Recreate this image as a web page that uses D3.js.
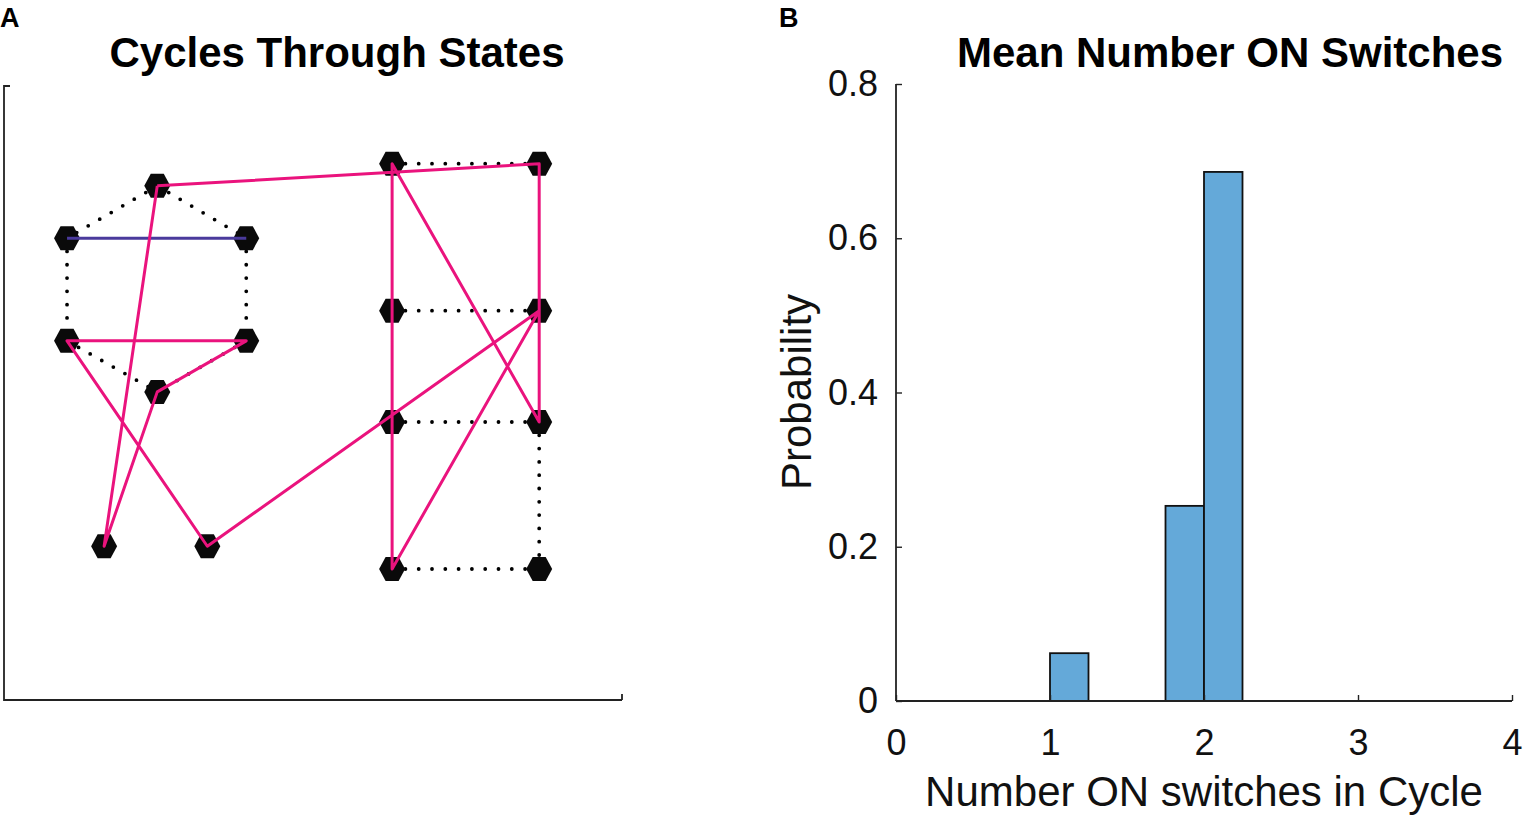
<!DOCTYPE html>
<html>
<head>
<meta charset="utf-8">
<script src="https://cdn.jsdelivr.net/npm/d3@7"></script>
<style>
  body { margin: 0; background: #fff; }
  text { font-family: "Liberation Sans", Arial, Helvetica, sans-serif; }
</style>
</head>
<body>
<svg id="chart"></svg>
<script>
// panel A: state nodes (data units) and the edges between them
const nodeNames = ["h1", "h2", "h3", "h4", "h5", "h6", "s1", "s2", "g1", "g2", "g3", "g4", "g5", "g6", "g7", "g8"];
const nodeX = [2.48, 1.02, 3.92, 1.02, 3.92, 2.48, 1.62, 3.29, 6.28, 8.66, 6.28, 8.66, 6.28, 8.66, 6.28, 8.66];
const nodeY = [8.36, 7.51, 7.51, 5.84, 5.84, 5.01, 2.5, 2.5, 8.72, 8.72, 6.33, 6.33, 4.52, 4.52, 2.13, 2.13];

const dottedEdges = [["h1", "h2"], ["h1", "h3"], ["h2", "h4"], ["h3", "h5"], ["h4", "h6"], ["h5", "h6"],
                     ["g1", "g2"], ["g3", "g4"], ["g5", "g6"], ["g7", "g8"], ["g6", "g8"]];
const blueEdges = [["h2", "h3"]];
const cyclePath = ["h1", "g2", "g6", "g1", "g7", "g4", "s2", "h4", "h5", "h6", "s1", "h1"];

// panel B: histogram of number of ON switches in a cycle
const binStart = [1, 1.75, 2];
const binEnd = [1.25, 2, 2.25];
const binProb = [0.062, 0.253, 0.686];
const xTicks = [0, 1, 2, 3, 4];
const yTicks = [0, 0.2, 0.4, 0.6, 0.8];

const W = 1526, H = 822;
const svg = d3.select("#chart").attr("width", W).attr("height", H);

// ---------- panel A ----------
const ax = d3.scaleLinear().domain([0, 10]).range([4, 622]);
const ay = d3.scaleLinear().domain([0, 10]).range([700, 85]);
const pos = {};
nodeNames.forEach((n, i) => pos[n] = [ax(nodeX[i]), ay(nodeY[i])]);

const gA = svg.append("g");

gA.append("path")
  .attr("d", `M${ax(0)},${ay(10) + 1}H${ax(0) + 6}M${ax(0)},${ay(10)}V${ay(0)}H${ax(10)}M${ax(10) + 0},${ay(0)}V${ay(0) - 6}`)
  .attr("fill", "none").attr("stroke", "#222").attr("stroke-width", 1.8);

gA.selectAll("line.dot")
  .data(dottedEdges)
  .enter()
  .append("line")
  .attr("class", "dot")
  .attr("x1", d => pos[d[0]][0]).attr("y1", d => pos[d[0]][1])
  .attr("x2", d => pos[d[1]][0]).attr("y2", d => pos[d[1]][1])
  .attr("stroke", "#000")
  .attr("stroke-width", 3.8)
  .attr("stroke-linecap", "round")
  .attr("stroke-dasharray", "0 13.3");

const hexagon = (cx, cy) => {
    const rx = 13, ry = 12, dx = 6.5;
    return `M${cx - rx},${cy}L${cx - dx},${cy - ry}L${cx + dx},${cy - ry}L${cx + rx},${cy}L${cx + dx},${cy + ry}L${cx - dx},${cy + ry}Z`;
};

gA.selectAll("path.node")
  .data(nodeNames)
  .enter()
  .append("path")
  .attr("class", "node")
  .attr("d", d => hexagon(pos[d][0], pos[d][1]))
  .attr("fill", "#0a0a0a");

gA.selectAll("line.blue")
  .data(blueEdges)
  .enter()
  .append("line")
  .attr("class", "blue")
  .attr("x1", d => pos[d[0]][0]).attr("y1", d => pos[d[0]][1])
  .attr("x2", d => pos[d[1]][0]).attr("y2", d => pos[d[1]][1])
  .attr("stroke", "#4a3a9c")
  .attr("stroke-width", 3);

const cycleLine = d3.line().x(d => pos[d][0]).y(d => pos[d][1]);
gA.append("path")
  .attr("d", cycleLine(cyclePath))
  .attr("fill", "none")
  .attr("stroke", "#ea137d")
  .attr("stroke-width", 3)
  .attr("stroke-linejoin", "round");

gA.append("text")
  .attr("x", 337).attr("y", 67)
  .attr("text-anchor", "middle")
  .attr("font-size", 42).attr("font-weight", "bold")
  .text("Cycles Through States");

svg.append("text").attr("x", 0).attr("y", 27)
  .attr("font-size", 27).attr("font-weight", "bold").text("A");

// ---------- panel B ----------
const bx = d3.scaleLinear().domain([0, 4]).range([896, 1512]);
const by = d3.scaleLinear().domain([0, 0.8]).range([701, 84]);
const gB = svg.append("g");

const bins = binProb.map((p, i) => ({ x0: binStart[i], x1: binEnd[i], p }));
gB.selectAll("rect")
  .data(bins)
  .enter()
  .append("rect")
  .attr("x", d => bx(d.x0))
  .attr("y", d => by(d.p))
  .attr("width", d => bx(d.x1) - bx(d.x0))
  .attr("height", d => by(0) - by(d.p))
  .attr("fill", "#64a9d9")
  .attr("stroke", "#111")
  .attr("stroke-width", 1.8);

const yAxis = gB.append("g")
  .attr("transform", `translate(${bx(0)},0)`)
  .call(d3.axisLeft(by).tickValues(yTicks).tickSize(-6).tickPadding(18).tickFormat(d => d === 0 ? "0" : d3.format(".1f")(d)));
const xAxis = gB.append("g")
  .attr("transform", `translate(0,${by(0)})`)
  .call(d3.axisBottom(bx).tickValues(xTicks).tickSize(-6).tickPadding(28).tickFormat(d3.format("d")));

[yAxis, xAxis].forEach(a => {
    a.select(".domain").attr("stroke", "#222").attr("stroke-width", 1.8)
     .attr("d", a === yAxis ? `M0,${by(0.8)}V${by(0)}` : `M${bx(0)},0H${bx(4)}`);
    a.selectAll(".tick line").attr("stroke", "#222").attr("stroke-width", 1.4);
    a.selectAll(".tick text").attr("font-size", 36).attr("fill", "#111")
     .attr("font-family", "'Liberation Sans', Arial, sans-serif");
});
xAxis.selectAll(".tick text").attr("dy", "0.71em");

gB.append("text")
  .attr("transform", `translate(811,392) rotate(-90)`)
  .attr("text-anchor", "middle")
  .attr("font-size", 42)
  .attr("fill", "#111")
  .text("Probability");

gB.append("text")
  .attr("x", 1204).attr("y", 806)
  .attr("text-anchor", "middle")
  .attr("font-size", 42)
  .attr("fill", "#111")
  .text("Number ON switches in Cycle");

gB.append("text")
  .attr("x", 1230).attr("y", 67)
  .attr("text-anchor", "middle")
  .attr("font-size", 42).attr("font-weight", "bold")
  .text("Mean Number ON Switches");

svg.append("text").attr("x", 779).attr("y", 27)
  .attr("font-size", 27).attr("font-weight", "bold").text("B");
</script>
</body>
</html>
